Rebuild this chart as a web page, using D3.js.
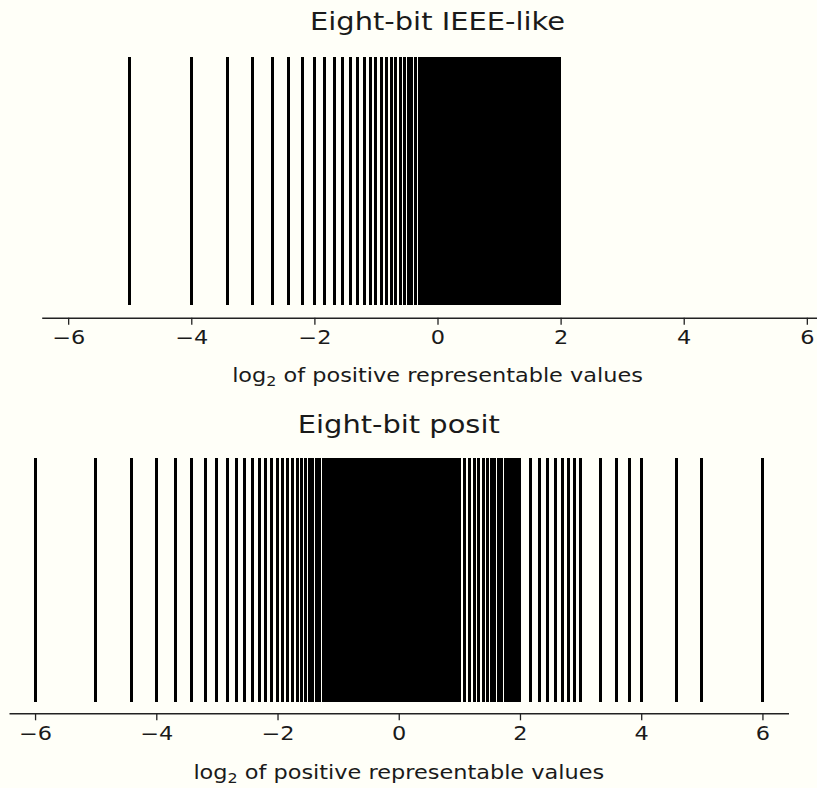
<!DOCTYPE html>
<html>
<head>
<meta charset="utf-8">
<script src="https://d3js.org/d3.v7.min.js"></script>
<style>
    body { margin: 0; background: #fffff8; }
    .text { font-family: "DejaVu Sans", sans-serif; fill: #1a1a1a; }
</style>
</head>
<body>
<div id="chart"></div>
<script>
const SCREEN_WIDTH = 817;
const SCREEN_HEIGHT = 788;
const TEXT_STRETCH = 1.18;   //the reference glyphs are wider than they are tall

// positive representable values of an 8-bit float (1 sign, 2 exponent, 5 fraction bits)
const ieeeValues = [
    0.03125, 0.0625, 0.09375, 0.125, 0.15625, 0.1875, 0.21875, 0.25,
    0.28125, 0.3125, 0.34375, 0.375, 0.40625, 0.4375, 0.46875, 0.5,
    0.53125, 0.5625, 0.59375, 0.625, 0.65625, 0.6875, 0.71875, 0.75,
    0.78125, 0.8125, 0.84375, 0.875, 0.90625, 0.9375, 0.96875,
    1, 1.03125, 1.0625, 1.09375, 1.125, 1.15625, 1.1875, 1.21875,
    1.25, 1.28125, 1.3125, 1.34375, 1.375, 1.40625, 1.4375, 1.46875,
    1.5, 1.53125, 1.5625, 1.59375, 1.625, 1.65625, 1.6875, 1.71875,
    1.75, 1.78125, 1.8125, 1.84375, 1.875, 1.90625, 1.9375, 1.96875,
    2, 2.0625, 2.125, 2.1875, 2.25, 2.3125, 2.375, 2.4375,
    2.5, 2.5625, 2.625, 2.6875, 2.75, 2.8125, 2.875, 2.9375,
    3, 3.0625, 3.125, 3.1875, 3.25, 3.3125, 3.375, 3.4375,
    3.5, 3.5625, 3.625, 3.6875, 3.75, 3.8125, 3.875, 3.9375
];

// positive representable values of an 8-bit posit (es = 0)
const positValues = [
    0.015625,
    0.03125, 0.046875,
    0.0625, 0.078125, 0.09375, 0.109375,
    0.125, 0.140625, 0.15625, 0.171875, 0.1875, 0.203125, 0.21875, 0.234375,
    0.25, 0.265625, 0.28125, 0.296875, 0.3125, 0.328125, 0.34375, 0.359375,
    0.375, 0.390625, 0.40625, 0.421875, 0.4375, 0.453125, 0.46875, 0.484375,
    0.5, 0.515625, 0.53125, 0.546875, 0.5625, 0.578125, 0.59375, 0.609375,
    0.625, 0.640625, 0.65625, 0.671875, 0.6875, 0.703125, 0.71875, 0.734375,
    0.75, 0.765625, 0.78125, 0.796875, 0.8125, 0.828125, 0.84375, 0.859375,
    0.875, 0.890625, 0.90625, 0.921875, 0.9375, 0.953125, 0.96875, 0.984375,
    1, 1.03125, 1.0625, 1.09375, 1.125, 1.15625, 1.1875, 1.21875,
    1.25, 1.28125, 1.3125, 1.34375, 1.375, 1.40625, 1.4375, 1.46875,
    1.5, 1.53125, 1.5625, 1.59375, 1.625, 1.65625, 1.6875, 1.71875,
    1.75, 1.78125, 1.8125, 1.84375, 1.875, 1.90625, 1.9375, 1.96875,
    2, 2.125, 2.25, 2.375, 2.5, 2.625, 2.75, 2.875,
    3, 3.125, 3.25, 3.375, 3.5, 3.625, 3.75, 3.875,
    4, 4.5, 5, 5.5, 6, 6.5, 7, 7.5,
    8, 10, 12, 14,
    16, 24,
    32,
    64
];

const tickValues = [-6, -4, -2, 0, 2, 4, 6];
const xDomain = [-6.43, 6.43];

const svg = d3.select("#chart").append("svg")
                .attr("width", SCREEN_WIDTH)
                .attr("height", SCREEN_HEIGHT)
                .style("display", "block");

svg.append("rect")
    .attr("width", SCREEN_WIDTH)
    .attr("height", SCREEN_HEIGHT)
    .attr("fill", "#fffff8");

function place(x, y){
    return "translate(" + x + "," + y + ") scale(" + TEXT_STRETCH + ",1)";
}

function drawPanel(values, title, layout){
    //one strip of vertical lines with its own axis
    const x = d3.scaleLinear()
                .domain(xDomain)
                .range([layout.left, layout.right]);

    const g = svg.append("g");

    g.append("text")
        .attr("class", "text")
        .attr("transform", place(x(0), layout.titleY))
        .attr("text-anchor", "middle")
        .style("font-size", "24.5px")
        .text(title);

    //crisp edges so that neighbouring lines merge into solid black
    g.append("g")
        .attr("shape-rendering", "crispEdges")
        .selectAll("line")
        .data(values)
        .join("line")
        .attr("x1", d => x(Math.log2(d)))
        .attr("x2", d => x(Math.log2(d)))
        .attr("y1", layout.lineTop)
        .attr("y2", layout.lineBottom)
        .attr("stroke", "black")
        .attr("stroke-width", 3);

    const axis = g.append("g")
                    .attr("transform", "translate(0," + layout.axisY + ")")
                    .call(d3.axisBottom(x)
                        .tickValues(tickValues)
                        .tickSize(7)
                        .tickSizeOuter(0)
                        .tickPadding(6));

    axis.select(".domain")
        .attr("stroke", "#222")
        .attr("stroke-width", 1.4);
    axis.selectAll(".tick line")
        .attr("stroke", "#222")
        .attr("stroke-width", 1.3);
    axis.selectAll(".tick text")
        .attr("class", "text")
        .attr("fill", "#1a1a1a")
        .attr("transform", "scale(" + TEXT_STRETCH + ",1)")
        .style("font-family", "DejaVu Sans, sans-serif")
        .style("font-size", "19px");

    const label = g.append("text")
                    .attr("class", "text")
                    .attr("transform", place(x(0), layout.labelY))
                    .attr("text-anchor", "middle")
                    .style("font-size", "19px");
    label.append("tspan").text("log");
    label.append("tspan")
        .attr("dy", 4)
        .style("font-size", "13.5px")
        .text("2");
    label.append("tspan")
        .attr("dy", -4)
        .text(" of positive representable values");
}

drawPanel(ieeeValues, "Eight-bit IEEE-like", {
    left: 41.7, right: 833.3,
    titleY: 29.5, lineTop: 57.3, lineBottom: 305, axisY: 317.7, labelY: 382.3
});

drawPanel(positValues, "Eight-bit posit", {
    left: 9, right: 788.5,
    titleY: 432.7, lineTop: 458.3, lineBottom: 701.7, axisY: 713.3, labelY: 779
});
</script>
</body>
</html>
